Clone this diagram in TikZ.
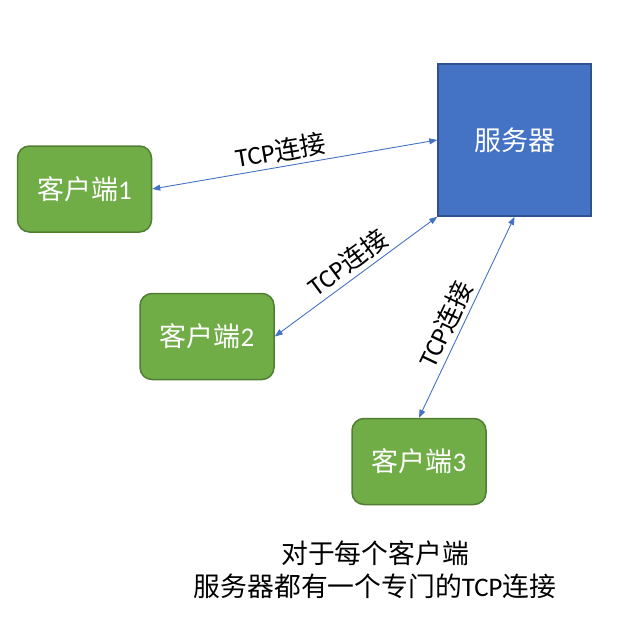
\documentclass[tikz,border=0pt]{standalone}
\usepackage{fontspec}
\setmainfont{Noto Sans CJK SC}
\newfontfamily\lat{Carlito}
\usetikzlibrary{arrows.meta}
\definecolor{srvfill}{HTML}{4472C4}
\definecolor{srvline}{HTML}{2F528F}
\definecolor{clifill}{HTML}{70AD47}
\definecolor{cliline}{HTML}{507E32}
\definecolor{conn}{HTML}{4472C4}
\tikzset{
  server/.style={draw=srvline, fill=srvfill, line width=1.5pt, minimum width=153pt, minimum height=152pt, text=white, font=\fontsize{27}{31}\selectfont, inner sep=0pt},
  client/.style={draw=cliline, fill=clifill, line width=1.5pt, rounded corners=12pt, minimum width=134pt, minimum height=86pt, text=white, font=\fontsize{27}{31}\selectfont, inner sep=0pt},
  link/.style={draw=conn, line width=0.9pt, {Triangle[length=8pt,width=6pt]}-{Triangle[length=8pt,width=6pt]}},
  linklabel/.style={sloped, above, inner sep=4pt, text=black, font=\fontsize{26}{30}\selectfont},
  note/.style={align=center, text=black, font=\fontsize{26.8}{33}\selectfont}
}
\begin{document}
\begin{tikzpicture}[x=1pt,y=-1pt]
\useasboundingbox (0,0) rectangle (626,626);
\node[server] (srv) at (514.5,140) {服务器};
\node[client] (c1) at (84.5,189) {客户端{\lat 1}};
\node[client] (c2) at (207,336.5) {客户端{\lat 2}};
\node[client] (c3) at (419,461.5) {客户端{\lat 3}};
\draw[link] (c1.east) -- node[linklabel, pos=0.46] {{\lat TCP}连接} (srv.west);
\draw[link] (c2.east) -- node[linklabel, pos=0.51] {{\lat TCP}连接} (srv.south west);
\draw[link] (c3.north) -- node[linklabel, pos=0.43] {{\lat TCP}连接} (srv.south);
\node[note] (txt) at (375,569.5) {对于每个客户端\\服务器都有一个专门的{\lat TCP}连接};
\end{tikzpicture}
\end{document}
